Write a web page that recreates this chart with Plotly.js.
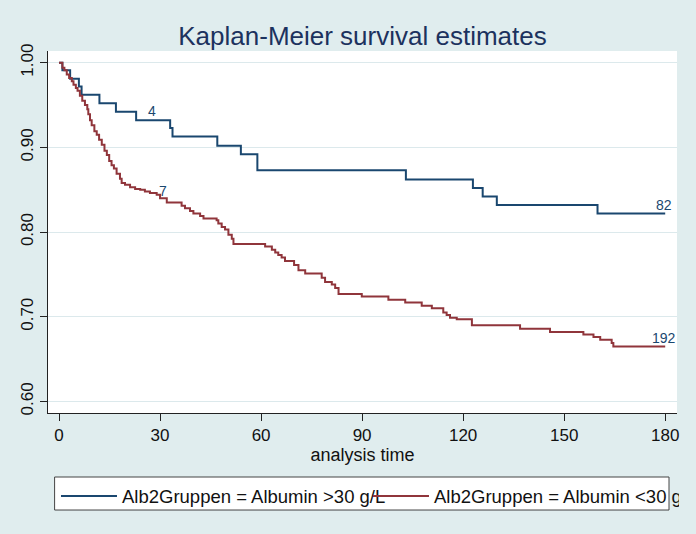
<!DOCTYPE html>
<html>
<head>
<meta charset="utf-8">
<script src="https://cdn.plot.ly/plotly-3.0.1.min.js"></script>
<style>html,body{margin:0;padding:0;background:#e0edee;}</style>
</head>
<body>
<div id="chart" style="width:696px;height:534px;"></div>
<script>
// Group: Alb2Gruppen = Albumin >30 g/L
const blueTime = [0, 1.0, 3.3, 5.9, 6.7, 12.0, 16.9, 22.9, 33.0, 33.7, 47.0, 54.0, 58.9, 103.0, 122.9, 125.8, 130.0, 159.9, 180];
const blueSurv = [1.000, 0.991, 0.981, 0.972, 0.962, 0.952, 0.942, 0.932, 0.923, 0.913, 0.902, 0.892, 0.873, 0.862, 0.852, 0.842, 0.832, 0.822, 0.822];

// Group: Alb2Gruppen = Albumin <30 g/L
const redTime = [0, 1.0, 1.6, 2.3, 3.0, 3.8, 4.3, 5.0, 5.5, 6.2, 6.9, 7.7, 8.4, 8.7, 9.2, 9.7, 10.5, 11.2, 11.9, 12.7, 13.5, 14.2, 14.9, 15.6, 16.3, 17.1, 18.1, 18.6, 19.6, 21.1, 22.6, 24.1, 25.5, 27.0, 29.0, 30.0, 32.0, 36.4, 37.4, 38.9, 39.9, 41.9, 42.9, 46.8, 47.3, 48.3, 49.3, 50.3, 51.3, 51.8, 61.2, 63.2, 64.2, 65.1, 66.1, 67.1, 69.8, 71.1, 73.1, 78.0, 79.0, 81.0, 82.0, 83.0, 89.9, 97.8, 102.8, 107.7, 110.7, 114.1, 115.1, 116.1, 118.1, 122.6, 136.9, 145.8, 155.7, 158.7, 160.7, 164.1, 164.6, 180];
const redSurv = [1.000, 0.994, 0.991, 0.986, 0.982, 0.978, 0.974, 0.970, 0.967, 0.961, 0.955, 0.950, 0.945, 0.939, 0.932, 0.926, 0.919, 0.915, 0.909, 0.903, 0.896, 0.891, 0.884, 0.879, 0.875, 0.869, 0.863, 0.858, 0.856, 0.853, 0.851, 0.850, 0.848, 0.846, 0.844, 0.840, 0.835, 0.831, 0.828, 0.825, 0.822, 0.819, 0.816, 0.814, 0.810, 0.806, 0.803, 0.797, 0.792, 0.786, 0.783, 0.779, 0.776, 0.773, 0.770, 0.766, 0.761, 0.755, 0.751, 0.746, 0.741, 0.738, 0.734, 0.727, 0.724, 0.720, 0.717, 0.713, 0.710, 0.705, 0.702, 0.699, 0.697, 0.690, 0.686, 0.682, 0.679, 0.676, 0.673, 0.669, 0.665, 0.665];

// Labels drawn next to the curves
const labelText = ['4', '7', '82', '192'];
const labelTime = [27.6, 31.0, 179.5, 179.7];
const labelSurv = [0.943, 0.849, 0.8325, 0.675];

const xTicks = [0, 30, 60, 90, 120, 150, 180];
const yTicks = [0.6, 0.7, 0.8, 0.9, 1.0];
const yTickText = ['0.60', '0.70', '0.80', '0.90', '1.00'];

const FONT = 'Liberation Sans, Arial, Helvetica, sans-serif';
const NAVY = '#1a476f';
const MAROON = '#90353b';

const traces = [
  {x: blueTime, y: blueSurv, type: 'scatter', mode: 'lines', line: {shape: 'hv', color: NAVY, width: 2},
   name: 'Alb2Gruppen = Albumin >30 g/L', legendwidth: 241, hoverinfo: 'skip'},
  {x: redTime, y: redSurv, type: 'scatter', mode: 'lines', line: {shape: 'hv', color: MAROON, width: 2},
   name: 'Alb2Gruppen = Albumin <30 g/L', legendwidth: 240, hoverinfo: 'skip'}
];

const annotations = labelText.map((t, i) => ({
  x: labelTime[i], y: labelSurv[i], xref: 'x', yref: 'y', text: t, showarrow: false,
  xanchor: 'center', yanchor: 'middle', font: {family: FONT, size: 14, color: NAVY}
}));

const layout = {
  width: 696, height: 534,
  paper_bgcolor: '#e0edee', plot_bgcolor: '#ffffff',
  margin: {l: 48, r: 19, t: 51, b: 121},
  font: {family: FONT, color: '#111111'},
  title: {text: 'Kaplan-Meier survival estimates', font: {family: FONT, size: 26, color: '#1c325e'},
          x: 0.5, xref: 'paper', xanchor: 'center', y: 1 - 36/534, yref: 'container', yanchor: 'middle'},
  xaxis: {range: [-3.27, 183.5], tickvals: xTicks, ticks: 'outside', ticklen: 7, tickcolor: '#222',
          showline: true, linecolor: '#222', linewidth: 1, showgrid: false, zeroline: false,
          tickfont: {size: 17, color: '#111'},
          title: {text: 'analysis time', font: {size: 18, color: '#111'}, standoff: 2}},
  yaxis: {range: [0.5864, 1.0138], tickvals: yTicks, ticktext: yTickText, tickangle: -90,
          ticks: 'outside', ticklen: 7, tickcolor: '#222',
          showline: true, linecolor: '#222', linewidth: 1,
          showgrid: true, gridcolor: '#dce9ec', gridwidth: 1, zeroline: false,
          tickfont: {size: 17, color: '#111'}},
  showlegend: true,
  legend: {orientation: 'h', x: 0.0127, xanchor: 'left', y: -0.178, yanchor: 'top',
           bgcolor: 'rgba(0,0,0,0)', borderwidth: 0, itemwidth: 56, entrywidthmode: 'pixels',
           font: {size: 18.5, color: '#111'}, traceorder: 'normal'},
  shapes: [{type: 'rect', xref: 'paper', yref: 'paper', x0: 0.0105, x1: 0.9873, y0: -0.1768, y1: -0.268,
            line: {color: '#444', width: 1}, fillcolor: '#ffffff', layer: 'above'}],
  annotations: annotations
};

Plotly.newPlot('chart', traces, layout, {staticPlot: true, displayModeBar: false});
</script>
</body>
</html>
